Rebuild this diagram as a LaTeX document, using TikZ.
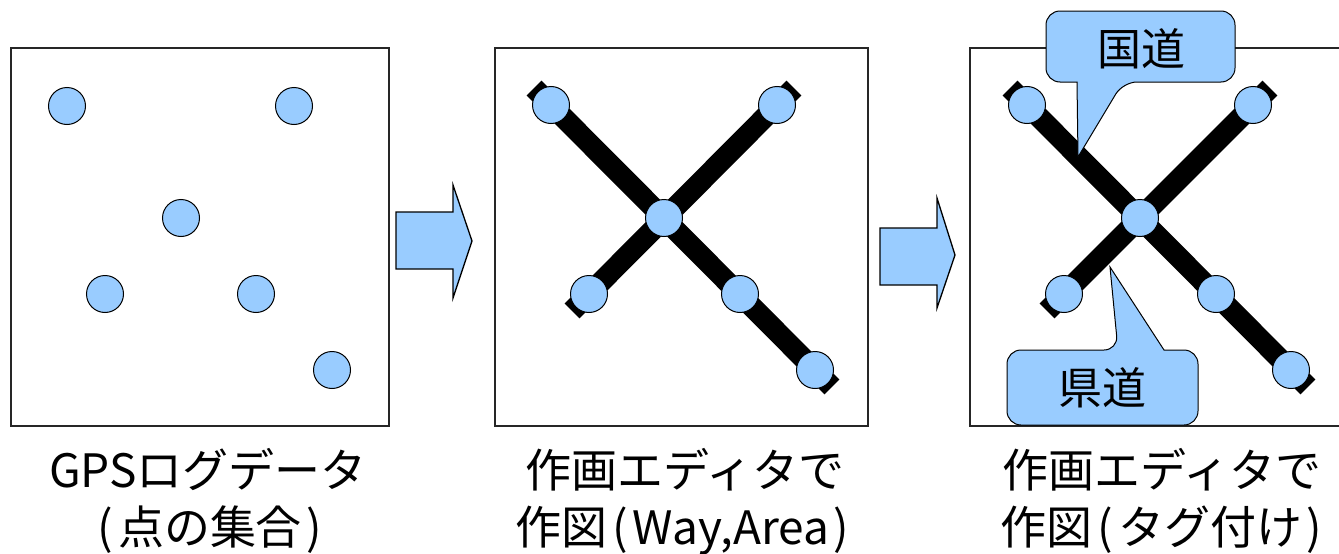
\documentclass[tikz,border=0pt]{standalone}
\usepackage{fontspec}
\newfontfamily\jp{Noto Sans CJK JP}
\definecolor{pt}{RGB}{153,204,255}
\newcommand{\lp}{\kern0.12em(\kern0.1em}
\newcommand{\rp}{\kern0.1em)\kern0.12em}
\begin{document}
\begin{tikzpicture}[x=1pt,y=-1pt,
  panel/.style={draw=black!85,line width=1.4pt},
  dot/.style={circle,draw=black,line width=1pt,fill=pt,minimum size=37pt,inner sep=0pt},
  road/.style={line width=21pt,black,shorten <=-24pt,shorten >=-24pt},
  blockarrow/.style={draw=black,line width=1.3pt,fill=pt,line join=miter},
  callout/.style={draw=black,line width=1pt,fill=pt},
  lbl/.style={font=\jp\fontsize{46}{46}\selectfont,anchor=base,inner sep=0pt},
  ctext/.style={font=\jp\fontsize{44}{44}\selectfont,inner sep=0pt}]
\useasboundingbox (0,0) rectangle (1339,554);
% panel 1
\draw[panel] (11,48) rectangle (389,426);
\node[dot] (a1) at (67,106) {};
\node[dot] (a2) at (294,106) {};
\node[dot] (a3) at (181,218) {};
\node[dot] (a4) at (105,294) {};
\node[dot] (a5) at (256,294) {};
\node[dot] (a6) at (332,370) {};
% arrow 1
\draw[blockarrow] (396,212) -- (453,212) -- (453,185) -- (472,241) -- (453,298) -- (453,269) -- (396,269) -- cycle;
% panel 2
\draw[panel] (495,48) rectangle (868,426);
\coordinate (b1) at (551,105);
\coordinate (b2) at (777,105);
\coordinate (b3) at (664,218);
\coordinate (b4) at (589,294);
\coordinate (b5) at (740,294);
\coordinate (b6) at (815,370);
\draw[road] (b1) -- (b6);
\draw[road] (b2) -- (b4);
\foreach \n in {b1,b2,b3,b4,b5,b6} \node[dot] at (\n) {};
% arrow 2
\draw[blockarrow] (880,228) -- (937,228) -- (937,198) -- (955,255) -- (937,308) -- (937,285) -- (880,285) -- cycle;
% panel 3
\draw[panel] (970,48) rectangle (1350,426);
\coordinate (c1) at (1027,105);
\coordinate (c2) at (1253,105);
\coordinate (c3) at (1140,218);
\coordinate (c4) at (1064,294);
\coordinate (c5) at (1216,294);
\coordinate (c6) at (1291,370);
\draw[road] (c1) -- (c6);
\draw[road] (c2) -- (c4);
\foreach \n in {c1,c2,c3,c4,c5,c6} \node[dot] at (\n) {};
% callouts
\coordinate (t1) at (1078,157);
\draw[callout] (t1) -- (1077,82) [rounded corners=14pt] -- (1046,82) -- (1046,11) -- (1235,11) -- (1235,82) -- (1123,82) [sharp corners] -- cycle;
\node[ctext] (k1) at (1141,49) {国道};
\coordinate (t2) at (1110,267);
\draw[callout] (t2) -- (1164,350) [rounded corners=14pt] -- (1198,350) -- (1198,425) -- (1007,425) -- (1007,350) -- (1118,350) [sharp corners] -- cycle;
\node[ctext] (k2) at (1102,388) {県道};
% labels
\node[lbl] (l1) at (208,487) {GPSログデータ};
\node[lbl] (l2) at (210,544) {\lp 点の集合\rp};
\node[lbl] (l3) at (685,487) {作画エディタで};
\node[lbl] (l4) at (685,544) {作図\lp Way,Area\rp};
\node[lbl] (l5) at (1162,487) {作画エディタで};
\node[lbl] (l6) at (1164,544) {作図\lp タグ付け\rp};
\end{tikzpicture}
\end{document}
